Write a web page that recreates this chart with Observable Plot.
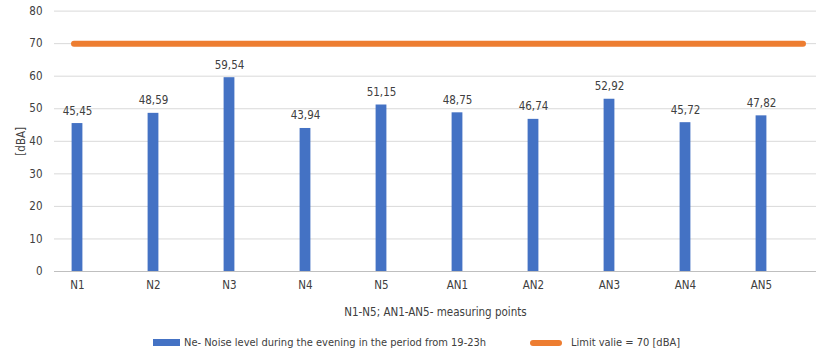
<!DOCTYPE html>
<html>
<head>
<meta charset="utf-8">
<script src="https://cdn.jsdelivr.net/npm/d3@7"></script>
<script src="https://cdn.jsdelivr.net/npm/@observablehq/plot@0.6"></script>
<style>
  html, body { margin: 0; padding: 0; background: #fff; }
  body { width: 816px; height: 350px; overflow: hidden; font-family: "DejaVu Sans Condensed", sans-serif; }
  #legend { position: relative; height: 25px; font-size: 11px; color: #404040; }
  .item { position: absolute; top: 11px; display: flex; align-items: center; white-space: nowrap; }
  .sw-bar { width: 27px; height: 7px; background: #4472C4; margin-right: 4px; }
  .sw-line { width: 32px; height: 6px; border-radius: 3px; background: #ED7D31; margin-right: 9px; }
</style>
</head>
<body>
<div id="chart"></div>
<div id="legend">
  <div class="item" style="left:153px"><span class="sw-bar"></span><span id="lg1"></span></div>
  <div class="item" style="left:530px"><span class="sw-line"></span><span id="lg2"></span></div>
</div>
<script>
const categories = ["N1", "N2", "N3", "N4", "N5", "AN1", "AN2", "AN3", "AN4", "AN5"];
const noiseValues = [45.45, 48.59, 59.54, 43.94, 51.15, 48.75, 46.74, 52.92, 45.72, 47.82];
const limitValue = 70;
const yTicks = [0, 10, 20, 30, 40, 50, 60, 70, 80];
const seriesNames = ["Ne- Noise level during the evening in the period from 19-23h", "Limit valie = 70 [dBA]"];
const xTitle = "N1-N5; AN1-AN5- measuring points";
const yTitle = "[dBA]";

const rows = categories.map((c, i) => ({cat: c, v: noiseValues[i]}));
const fmt = v => v.toFixed(2).replace(".", ",");
const font = "'DejaVu Sans Condensed', sans-serif";

const chart = Plot.plot({
  width: 816,
  height: 325,
  marginLeft: 54,
  marginRight: 0,
  marginTop: 10.6,
  marginBottom: 54,
  style: {fontFamily: font, fontSize: "11px", color: "#404040", background: "#fff"},
  x: {type: "band", domain: categories, range: [35.1, 803.1], padding: 0, label: null},
  y: {domain: [0, 80], label: null},
  marks: [
    Plot.gridY(yTicks, {stroke: "#d9d9d9", strokeOpacity: 1, strokeWidth: 1}),
    Plot.ruleY([0], {stroke: "#bfbfbf", strokeWidth: 1}),
    Plot.barY(rows, {x: "cat", y: "v", fill: "#4472C4", insetLeft: 32.6, insetRight: 32.6}),
    Plot.ruleY([limitValue], {stroke: "#ED7D31", strokeWidth: 6, strokeLinecap: "round", insetLeft: 20, insetRight: 13}),
    Plot.text(rows, {x: "cat", y: "v", text: d => fmt(d.v), dy: -9, lineAnchor: "bottom", fill: "#404040", fontSize: 11.5}),
    Plot.axisY(yTicks, {tickSize: 0, tickPadding: 12, label: yTitle, labelAnchor: "center", labelArrow: "none", labelOffset: 38, fill: "#404040", fontSize: 11.5}),
    Plot.axisX({tickSize: 0, tickPadding: 9, label: xTitle, labelAnchor: "center", labelArrow: "none", labelOffset: 44, fill: "#404040", fontSize: 11.5})
  ]
});
document.getElementById("chart").appendChild(chart);
document.getElementById("lg1").textContent = seriesNames[0];
document.getElementById("lg2").textContent = seriesNames[1];
</script>
</body>
</html>
